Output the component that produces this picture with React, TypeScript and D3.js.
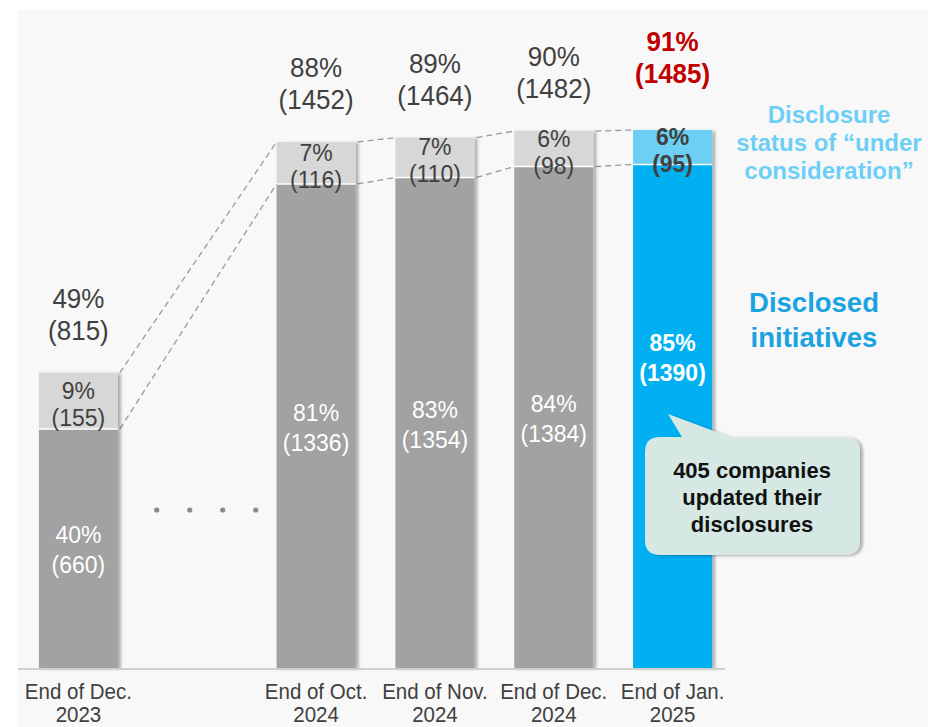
import * as d3 from "d3";
import React, { useEffect, useRef } from "react";

const categories = ["Dec2023", "gap", "Oct2024", "Nov2024", "Dec2024", "Jan2025"];
const periods = ["Dec2023", "Oct2024", "Nov2024", "Dec2024", "Jan2025"];
const periodLabels = [
  ["End of Dec.", "2023"],
  ["End of Oct.", "2024"],
  ["End of Nov.", "2024"],
  ["End of Dec.", "2024"],
  ["End of Jan.", "2025"],
];
const disclosed = [660, 1336, 1354, 1384, 1390];
const disclosedPct = [40, 81, 83, 84, 85];
const underConsideration = [155, 116, 110, 98, 95];
const underPct = [9, 7, 7, 6, 6];
const totals = [815, 1452, 1464, 1482, 1485];
const totalPct = [49, 88, 89, 90, 91];

const FONT = "'Liberation Sans', Arial, sans-serif";

const App = () => {
  const ref = useRef<SVGSVGElement | null>(null);

  useEffect(() => {
    const svg = d3.select(ref.current);
    svg.selectAll("*").remove();

    const width = 928;
    const height = 727;
    const last = periods.length - 1;

    svg.attr("width", width).attr("height", height);

    const defs = svg.append("defs");
    const f = defs
      .append("filter")
      .attr("id", "shadow")
      .attr("x", "-20%")
      .attr("y", "-5%")
      .attr("width", "140%")
      .attr("height", "110%");
    f.append("feDropShadow")
      .attr("dx", 3)
      .attr("dy", 1)
      .attr("stdDeviation", 1.5)
      .attr("flood-color", "#000")
      .attr("flood-opacity", 0.3);

    // panel background
    svg.append("rect").attr("width", width).attr("height", height).attr("fill", "#fff");
    svg
      .append("rect")
      .attr("x", 18)
      .attr("y", 10)
      .attr("width", width - 18)
      .attr("height", height - 10)
      .attr("fill", "#f8f8f8");

    const x = d3
      .scaleBand<string>()
      .domain(categories)
      .range([19, 732])
      .paddingInner(0.335)
      .paddingOuter(0.1675);
    const y = d3.scaleLinear().domain([0, 1485]).range([668, 130]);
    const bw = x.bandwidth();
    const cx = (p: string) => (x(p) as number) + bw / 2;

    // dashed connectors
    const conn = svg
      .append("g")
      .attr("stroke", "#9a9a9a")
      .attr("stroke-width", 1.3)
      .attr("stroke-dasharray", "6,4")
      .attr("fill", "none");
    for (let i = 0; i < last; i++) {
      const x0 = (x(periods[i]) as number) + bw + 2;
      const x1 = x(periods[i + 1]) as number;
      conn.append("line").attr("x1", x0).attr("x2", x1).attr("y1", y(totals[i])).attr("y2", y(totals[i + 1]));
      conn.append("line").attr("x1", x0).attr("x2", x1).attr("y1", y(disclosed[i])).attr("y2", y(disclosed[i + 1]));
    }

    // bars
    const bars = svg.append("g");
    periods.forEach((p, i) => {
      const g = bars.append("g").attr("filter", "url(#shadow)");
      const isLast = i === last;
      g.append("rect")
        .attr("x", x(p) as number)
        .attr("width", bw)
        .attr("y", y(totals[i]))
        .attr("height", y(disclosed[i]) - y(totals[i]))
        .attr("fill", isLast ? "#6dcff3" : "#d7d7d7");
      g.append("rect")
        .attr("x", x(p) as number)
        .attr("width", bw)
        .attr("y", y(disclosed[i]))
        .attr("height", y(0) - y(disclosed[i]))
        .attr("fill", isLast ? "#00b0f0" : "#a2a2a2");
      bars
        .append("line")
        .attr("x1", x(p) as number)
        .attr("x2", (x(p) as number) + bw)
        .attr("y1", y(disclosed[i]))
        .attr("y2", y(disclosed[i]))
        .attr("stroke", "#fff")
        .attr("stroke-width", 1.5);
    });

    // axis line
    svg
      .append("line")
      .attr("x1", 18)
      .attr("x2", 725)
      .attr("y1", y(0) + 1)
      .attr("y2", y(0) + 1)
      .attr("stroke", "#cfcfcf")
      .attr("stroke-width", 2);

    // ellipsis dots
    const gx = x("gap") as number;
    d3.range(4).forEach((k) => {
      svg
        .append("circle")
        .attr("cx", gx - 1 + k * 33)
        .attr("cy", 510)
        .attr("r", 2.6)
        .attr("fill", "#8a8a8a");
    });

    const txt = (
      px: number,
      py: number,
      s: string,
      size: number,
      color: string,
      weight = "normal",
      sy = 1.08
    ) =>
      svg
        .append("text")
        .attr("transform", `translate(${px},${py}) scale(1,${sy})`)
        .attr("text-anchor", "middle")
        .attr("dominant-baseline", "central")
        .attr("font-family", FONT)
        .attr("font-size", size)
        .attr("font-weight", weight)
        .attr("fill", color)
        .text(s);

    periods.forEach((p, i) => {
      const c = cx(p);
      const isLast = i === last;
      const top = y(totals[i]);
      const w = isLast ? "bold" : "normal";
      // totals above bars
      const off = isLast ? 14 : 0;
      const topColor = isLast ? "#c00000" : "#404040";
      txt(c, top - 74 - off, `${totalPct[i]}%`, 26, topColor, w);
      txt(c, top - 42 - off, `(${totals[i]})`, 26, topColor, w);
      // under consideration
      const mid = (y(totals[i]) + y(disclosed[i])) / 2;
      txt(c, mid - 11, `${underPct[i]}%`, 23, "#404040", w);
      txt(c, mid + 16, `(${underConsideration[i]})`, 23, "#404040", w);
      // disclosed
      const mid2 = (y(disclosed[i]) + y(0)) / 2 - (isLast ? 60 : 0);
      txt(c, mid2 - 14, `${disclosedPct[i]}%`, 23, "#ffffff", w);
      txt(c, mid2 + 16, `(${disclosed[i]})`, 23, "#ffffff", w);
      // x labels
      txt(c, 691, periodLabels[i][0], 20.5, "#404040", "normal", 1.04);
      txt(c, 714, periodLabels[i][1], 20.5, "#404040", "normal", 1.04);
    });

    // legend labels
    ["Disclosure", "status of \u201cunder", "consideration\u201d"].forEach((s, k) =>
      txt(829, 114 + k * 28, s, 24, "#6dcff6", "bold", 1.02)
    );
    ["Disclosed", "initiatives"].forEach((s, k) =>
      txt(814, 302 + k * 35, s, 27.5, "#1aa3e0", "bold", 1.02)
    );

    // callout
    const co = svg.append("g").attr("filter", "url(#shadow)");
    co.append("path")
      .attr(
        "d",
        "M662,437 L682,437 L668,414 L730,437 L845,437 Q860,437 860,452 L860,540 Q860,555 845,555 L660,555 Q645,555 645,540 L645,452 Q645,437 660,437 Z"
      )
      .attr("fill", "#d6e8e4");
    ["405 companies", "updated their", "disclosures"].forEach((s, k) =>
      txt(752, 470 + k * 27, s, 22, "#111", "bold", 1.02)
    );
  }, []);

  return <svg ref={ref} style={{ position: "absolute", left: 0, top: 0 }} />;
};

export default App;
